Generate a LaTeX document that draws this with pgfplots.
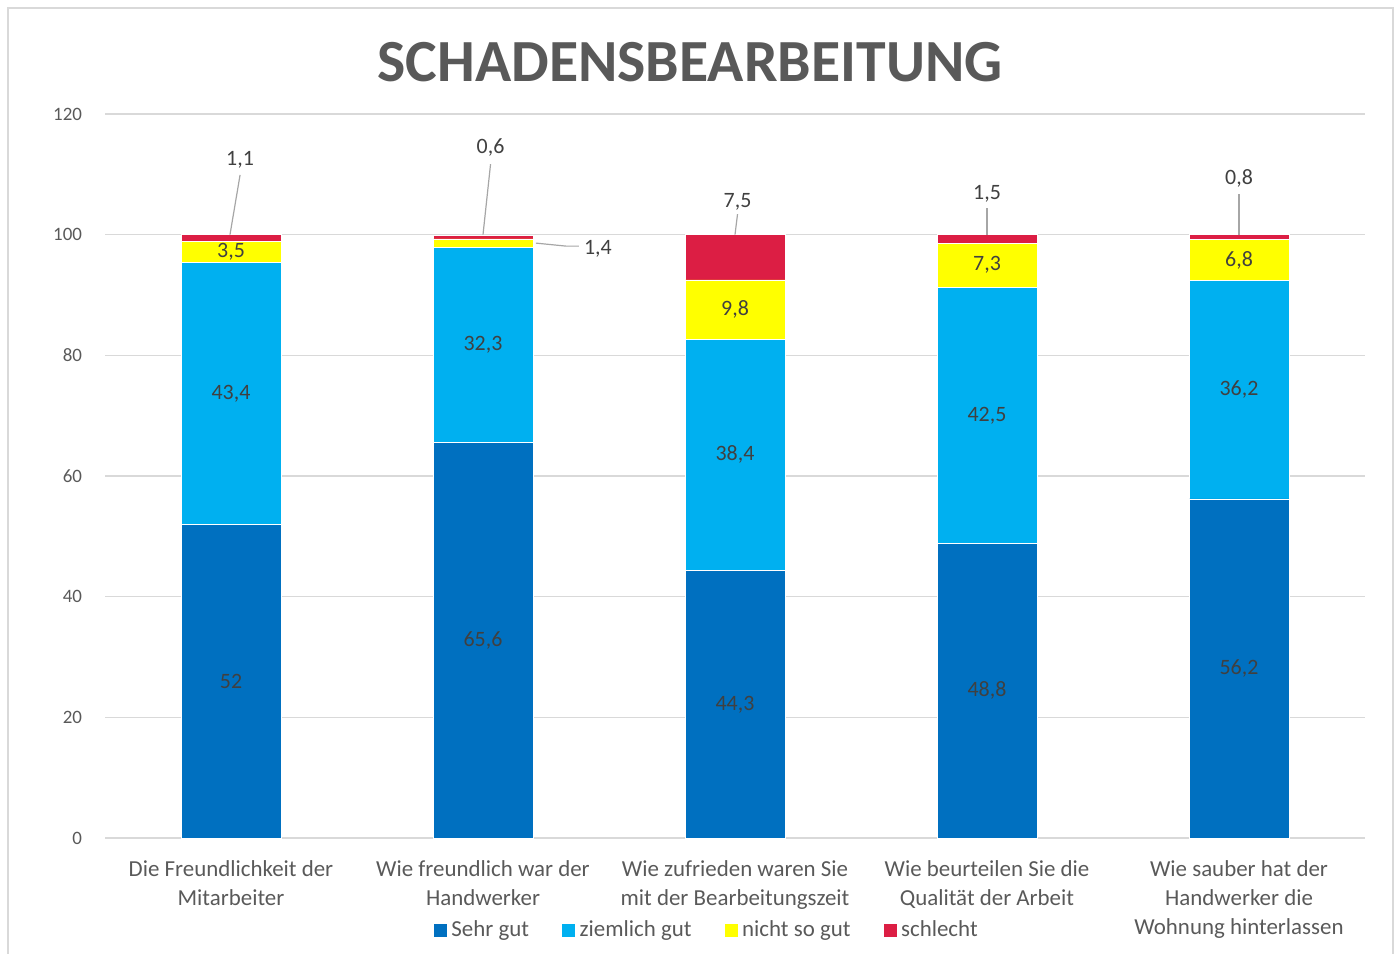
\documentclass[border=0pt]{standalone}
\usepackage{fontspec}
\setmainfont{Carlito}
\usepackage{pgfplots}
\pgfplotsset{compat=1.18}

\definecolor{sehrgut}{HTML}{0070C0}
\definecolor{ziemlich}{HTML}{00B0F0}
\definecolor{nichtso}{HTML}{FFFF00}
\definecolor{schlecht}{HTML}{DC1E44}
\definecolor{wertfarbe}{HTML}{404040}
\definecolor{achsfarbe}{HTML}{595959}
\definecolor{gitter}{HTML}{D9D9D9}

\tikzset{
  wert/.style={font=\fontsize{11}{12}\selectfont, text=wertfarbe},
  linie/.style={draw=gray!70, line width=0.6bp},
}

\begin{document}
\begin{tikzpicture}
\useasboundingbox (0,0) rectangle (699.5bp,477bp);
\draw[gitter, line width=0.8bp] (4bp,-3bp) rectangle (696.5bp,473bp);
\node[font=\bfseries\fontsize{30}{34}\selectfont, text=achsfarbe] at (345bp,446bp) {SCHADENSBEARBEITUNG};

\begin{axis}[
    at={(52.5bp,58bp)}, anchor=south west,
    scale only axis, width=630bp, height=362bp,
    ybar stacked, bar width=50bp,
    xmin=-0.5, xmax=4.5, ymin=0, ymax=120,
    ytick={0,20,40,60,80,100,120},
    xtick={0,1,2,3,4},
    xticklabels={{Die Freundlichkeit der\\Mitarbeiter},
                 {Wie freundlich war der\\Handwerker},
                 {Wie zufrieden waren Sie\\mit der Bearbeitungszeit},
                 {Wie beurteilen Sie die\\Qualität der Arbeit},
                 {Wie sauber hat der\\Handwerker die\\Wohnung hinterlassen}},
    xticklabel style={align=center, text=achsfarbe,
        font=\fontsize{11.5}{14.5}\selectfont, anchor=north, yshift=-8bp},
    yticklabel style={text=achsfarbe, font=\fontsize{9.5}{11}\selectfont, xshift=-8bp},
    /pgf/number format/assume math mode=true,
    major tick length=0pt,
    ymajorgrids, grid style={gitter, line width=0.8bp},
    axis x line*=bottom, axis y line*=left,
    x axis line style={gitter, line width=0.8bp},
    y axis line style={draw=none},
    legend columns=4,
    legend style={draw=none, fill=none, at={(0.478,-0.127)}, anchor=center,
        font=\fontsize{11.5}{14}\selectfont, text=achsfarbe,
        /tikz/every even column/.append style={column sep=14bp}},
    legend image code/.code={\fill[#1] (0bp,-3.5bp) rectangle (7bp,3.5bp);},
    clip=false,
]
\addplot[fill=sehrgut, draw=white, line width=0.3bp]
    coordinates {(0,52) (1,65.6) (2,44.3) (3,48.8) (4,56.2)};
\addplot[fill=ziemlich, draw=white, line width=0.3bp]
    coordinates {(0,43.4) (1,32.3) (2,38.4) (3,42.5) (4,36.2)};
\addplot[fill=nichtso, draw=white, line width=0.3bp]
    coordinates {(0,3.5) (1,1.4) (2,9.8) (3,7.3) (4,6.8)};
\addplot[fill=schlecht, draw=white, line width=0.3bp]
    coordinates {(0,1.1) (1,0.6) (2,7.5) (3,1.5) (4,0.8)};
\legend{Sehr gut, ziemlich gut, nicht so gut, schlecht}

% Positionen der Beschriftungen
\coordinate (a1) at (axis cs:0,26);
\coordinate (a2) at (axis cs:0,73.7);
\coordinate (a3) at (axis cs:0,97.15);
\coordinate (b1) at (axis cs:1,32.8);
\coordinate (b2) at (axis cs:1,81.75);
\coordinate (c1) at (axis cs:2,22.15);
\coordinate (c2) at (axis cs:2,63.5);
\coordinate (c3) at (axis cs:2,87.6);
\coordinate (d1) at (axis cs:3,24.4);
\coordinate (d2) at (axis cs:3,70.05);
\coordinate (d3) at (axis cs:3,94.95);
\coordinate (e1) at (axis cs:4,28.1);
\coordinate (e2) at (axis cs:4,74.3);
\coordinate (e3) at (axis cs:4,95.8);
\coordinate (a4s) at (axis cs:-0.004,100);
\coordinate (a4e) at (axis cs:0.036,109.9);
\coordinate (a4)  at (axis cs:0.036,112.4);
\coordinate (b4s) at (axis cs:1.0,100);
\coordinate (b4e) at (axis cs:1.03,111.7);
\coordinate (b4)  at (axis cs:1.03,114.5);
\coordinate (b3s) at (axis cs:1.21,98.6);
\coordinate (b3m) at (axis cs:1.33,98.1);
\coordinate (b3e) at (axis cs:1.38,98.1);
\coordinate (b3)  at (axis cs:1.456,97.6);
\coordinate (c4s) at (axis cs:2.0,100);
\coordinate (c4e) at (axis cs:2.01,103.4);
\coordinate (c4)  at (axis cs:2.01,105.4);
\coordinate (d4s) at (axis cs:3.0,100);
\coordinate (d4e) at (axis cs:3.0,104.5);
\coordinate (d4)  at (axis cs:3.0,106.8);
\coordinate (e4s) at (axis cs:4.0,100);
\coordinate (e4e) at (axis cs:4.0,106.8);
\coordinate (e4)  at (axis cs:4.0,109.3);
\end{axis}

\node[wert] at (a1) {52};
\node[wert] at (a2) {43,4};
\node[wert] at (a3) {3,5};
\node[wert] at (b1) {65,6};
\node[wert] at (b2) {32,3};
\node[wert] at (c1) {44,3};
\node[wert] at (c2) {38,4};
\node[wert] at (c3) {9,8};
\node[wert] at (d1) {48,8};
\node[wert] at (d2) {42,5};
\node[wert] at (d3) {7,3};
\node[wert] at (e1) {56,2};
\node[wert] at (e2) {36,2};
\node[wert] at (e3) {6,8};
\draw[linie] (a4s) -- (a4e);
\node[wert] at (a4) {1,1};
\draw[linie] (b4s) -- (b4e);
\node[wert] at (b4) {0,6};
\draw[linie] (b3s) -- (b3m) -- (b3e);
\node[wert] at (b3) {1,4};
\draw[linie] (c4s) -- (c4e);
\node[wert] at (c4) {7,5};
\draw[linie] (d4s) -- (d4e);
\node[wert] at (d4) {1,5};
\draw[linie] (e4s) -- (e4e);
\node[wert] at (e4) {0,8};
\end{tikzpicture}
\end{document}
